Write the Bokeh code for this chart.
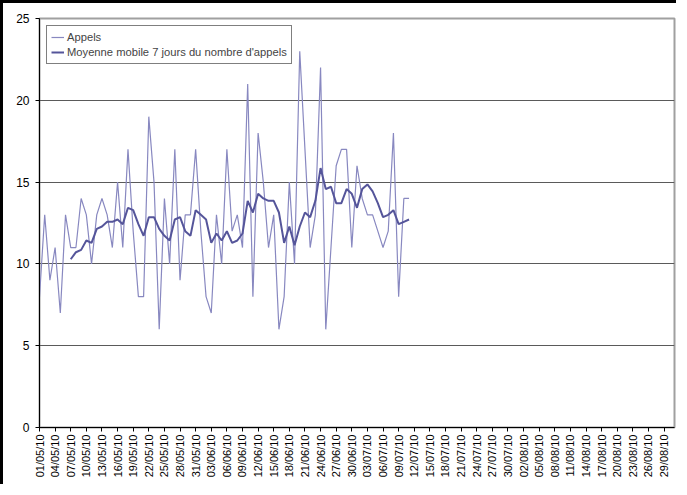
import pandas as pd
from bokeh.plotting import figure
from bokeh.models import Range1d, FixedTicker, DatetimeTickFormatter, Legend, LegendItem
from bokeh.embed import file_html
from bokeh.resources import INLINE
from math import pi

# Daily number of calls, 01/05/2010 -> 11/07/2010
start_date = "2010-05-01"
appels = [8, 13, 9, 11, 7, 13, 11, 11, 14, 13, 10, 13, 14, 13, 11, 15, 11, 17, 12, 8,
          8, 19, 15, 6, 14, 10, 17, 9, 13, 13, 17, 12, 8, 7, 13, 10, 17, 12, 13, 11,
          21, 8, 18, 15, 11, 13, 6, 8, 15, 10, 23, 17, 11, 13, 22, 6, 11, 16, 17, 17,
          11, 16, 14, 13, 13, 12, 11, 12, 18, 8, 14, 14]
window = 7
axis_start = "2010-05-01"
axis_end = "2010-08-31"
tick_first = "2010-05-01"
tick_last = "2010-08-29"
y_ticks = [0, 5, 10, 15, 20, 25]
labels = ["Appels", "Moyenne mobile 7 jours du nombre d'appels"]

dates = pd.date_range(start_date, periods=len(appels), freq="D")
moyenne = pd.Series(appels).rolling(window).mean()

FONT = "Liberation Sans"

p = figure(width=676, height=484, output_backend="svg", toolbar_location=None,
           x_axis_type="datetime",
           x_range=Range1d(pd.Timestamp(axis_start), pd.Timestamp(axis_end)),
           y_range=Range1d(0, 25),
           min_border_left=36, min_border_right=5, min_border_top=15, min_border_bottom=60)

p.background_fill_color = "white"
p.border_fill_color = "white"
p.outline_line_color = "#a0a0a0"
p.outline_line_width = 2

r1 = p.line(dates, appels, line_color="#8888C0", line_width=1.2)
r2 = p.line(dates[window - 1:], moyenne[window - 1:], line_color="#55559A", line_width=2)

# axes
tick_dates = pd.date_range(tick_first, tick_last, freq="3D")
p.xaxis.ticker = FixedTicker(ticks=[t.value / 1e6 for t in tick_dates])
fmt = "%d/%m/%y"
p.xaxis.formatter = DatetimeTickFormatter(microseconds=fmt, milliseconds=fmt, seconds=fmt,
                                          minsec=fmt, minutes=fmt, hourmin=fmt, hours=fmt,
                                          days=fmt, months=fmt, years=fmt)
p.xaxis.major_label_orientation = pi / 2
p.xaxis.major_label_text_font = FONT
p.xaxis.major_label_text_font_size = "11px"
p.xaxis.major_label_text_color = "black"
p.xaxis.major_label_standoff = 3
p.xaxis.major_tick_out = 4
p.xaxis.major_tick_in = 0
p.xaxis.minor_tick_line_color = None
p.xaxis.axis_line_color = "black"
p.xaxis.major_tick_line_color = "black"

p.yaxis.ticker = FixedTicker(ticks=y_ticks)
p.yaxis.major_label_text_font = FONT
p.yaxis.major_label_text_font_size = "12px"
p.yaxis.major_label_text_color = "black"
p.yaxis.major_label_standoff = 6
p.yaxis.major_tick_out = 4
p.yaxis.major_tick_in = 0
p.yaxis.minor_tick_line_color = None
p.yaxis.axis_line_color = "black"
p.yaxis.major_tick_line_color = "black"

p.xgrid.grid_line_color = None
p.ygrid.grid_line_color = "#5a5a5a"
p.ygrid.grid_line_width = 1

legend = Legend(items=[LegendItem(label=labels[0], renderers=[r1]),
                       LegendItem(label=labels[1], renderers=[r2])],
                location="top_left")
legend.margin = 7
legend.padding = 4
legend.spacing = 1
legend.border_line_color = "black"
legend.border_line_width = 1
legend.background_fill_alpha = 1
legend.label_text_font = FONT
legend.label_text_font_size = "11.2px"
legend.label_standoff = 3
legend.glyph_width = 13
legend.glyph_height = 14
legend.label_height = 14
p.add_layout(legend)

p.styles = {"border-top": "3px solid black", "border-left": "3px solid black"}

open("out.html", "w").write(file_html(p, INLINE))
